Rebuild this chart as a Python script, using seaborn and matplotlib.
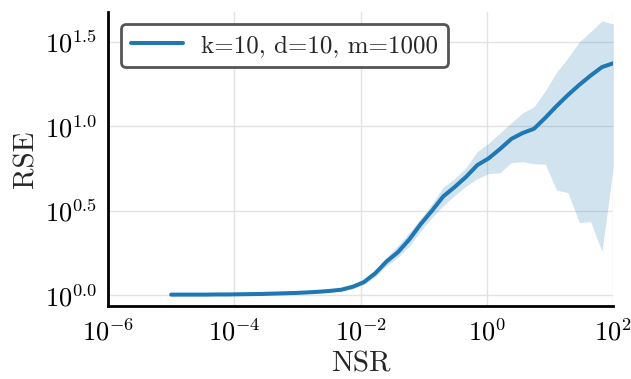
import numpy as np
import pandas as pd
import seaborn as sns
import matplotlib
matplotlib.use("Agg")
import matplotlib.pyplot as plt
from matplotlib.ticker import FixedLocator, FuncFormatter, NullFormatter

# ---- data (log10 values) ----
nsr_exp = np.linspace(-5, 2, 40)  # NSR sample exponents (40 log-spaced points)
rse_mean_log = [0.004, 0.004, 0.004, 0.004, 0.005, 0.005, 0.006, 0.007, 0.008, 0.010,
                0.012, 0.014, 0.017, 0.021, 0.026, 0.033, 0.050, 0.078, 0.130, 0.200,
                0.255, 0.330, 0.420, 0.500, 0.585, 0.640, 0.700, 0.770, 0.810, 0.865,
                0.925, 0.960, 0.985, 1.050, 1.120, 1.185, 1.245, 1.300, 1.350, 1.373]
rse_low_log = [0.001, 0.001, 0.001, 0.001, 0.002, 0.002, 0.003, 0.004, 0.005, 0.007,
               0.008, 0.010, 0.012, 0.015, 0.019, 0.026, 0.040, 0.065, 0.110, 0.175,
               0.225, 0.290, 0.380, 0.460, 0.530, 0.590, 0.645, 0.690, 0.720, 0.725,
               0.785, 0.790, 0.778, 0.775, 0.622, 0.607, 0.430, 0.436, 0.258, 0.761]
rse_high_log = [0.007, 0.007, 0.007, 0.007, 0.008, 0.008, 0.009, 0.010, 0.011, 0.013,
                0.016, 0.018, 0.022, 0.027, 0.033, 0.042, 0.062, 0.094, 0.150, 0.225,
                0.295, 0.370, 0.455, 0.540, 0.640, 0.690, 0.755, 0.850, 0.900, 0.960,
                1.020, 1.080, 1.115, 1.210, 1.320, 1.405, 1.500, 1.560, 1.623, 1.605]
series_label = "k=10, d=10, m=1000"
x_ticks_exp = [-6, -4, -2, 0, 2]
x_minor_exp = [-5, -3, -1, 1]
y_ticks_exp = [0.0, 0.5, 1.0, 1.5]

df = pd.DataFrame({
    "NSR": 10.0 ** nsr_exp,
    "RSE": 10.0 ** np.array(rse_mean_log),
    "lo": 10.0 ** np.array(rse_low_log),
    "hi": 10.0 ** np.array(rse_high_log),
})

sns.set_style("white")
plt.rcParams["mathtext.fontset"] = "cm"
plt.rcParams["font.family"] = ["cmr10", "DejaVu Serif"]
plt.rcParams["axes.formatter.use_mathtext"] = True

color = "#1f77b4"
fig = plt.figure(figsize=(6.31, 3.79), dpi=100)
ax = fig.add_axes([108 / 631, (379 - 306) / 379, (613.3 - 108) / 631, (306 - 12) / 379])

ax.fill_between(df["NSR"], df["lo"], df["hi"], color=color, alpha=0.2, linewidth=0, zorder=2)
sns.lineplot(data=df, x="NSR", y="RSE", ax=ax, color=color, linewidth=2.9,
             label=series_label, zorder=3, solid_capstyle="round")

ax.set_xscale("log")
ax.set_yscale("log")
ax.set_xlim(1e-6, 1e2)
ax.set_ylim(10 ** -0.0633, 10 ** 1.676)

ax.xaxis.set_major_locator(FixedLocator([10.0 ** e for e in x_ticks_exp]))
ax.xaxis.set_minor_locator(FixedLocator([10.0 ** e for e in x_minor_exp]))
ax.xaxis.set_major_formatter(FuncFormatter(lambda v, p: r"$10^{%d}$" % round(np.log10(v))))
ax.xaxis.set_minor_formatter(NullFormatter())
ax.yaxis.set_major_locator(FixedLocator([10.0 ** e for e in y_ticks_exp]))
ax.yaxis.set_minor_locator(FixedLocator([]))
ax.yaxis.set_major_formatter(FuncFormatter(lambda v, p: r"$10^{%.1f}$" % np.log10(v)))

ax.grid(True, which="major", color="#e3e3e3", linewidth=1.0, zorder=0)
for s in ["top", "right"]:
    ax.spines[s].set_visible(False)
for s in ["left", "bottom"]:
    ax.spines[s].set_linewidth(2.0)
    ax.spines[s].set_color("black")

ax.tick_params(axis="both", which="major", direction="inout", length=9, width=1.6,
               labelsize=19, colors="black", pad=3)
ax.tick_params(axis="x", which="major", pad=5)
ax.tick_params(axis="x", which="minor", direction="out", length=5, width=1.2)

ax.set_xlabel("NSR", fontsize=21, labelpad=4)
ax.set_ylabel("RSE", fontsize=21, labelpad=4)

leg = ax.legend(loc="upper left", bbox_to_anchor=(0.0251, 0.958), borderaxespad=0,
                fontsize=18, frameon=True, fancybox=True, handlelength=2.1,
                borderpad=0.4, handletextpad=0.7)
frame = leg.get_frame()
frame.set_edgecolor("#555555")
frame.set_linewidth(2.0)
frame.set_alpha(1.0)

fig.savefig("out.png", dpi=100)
